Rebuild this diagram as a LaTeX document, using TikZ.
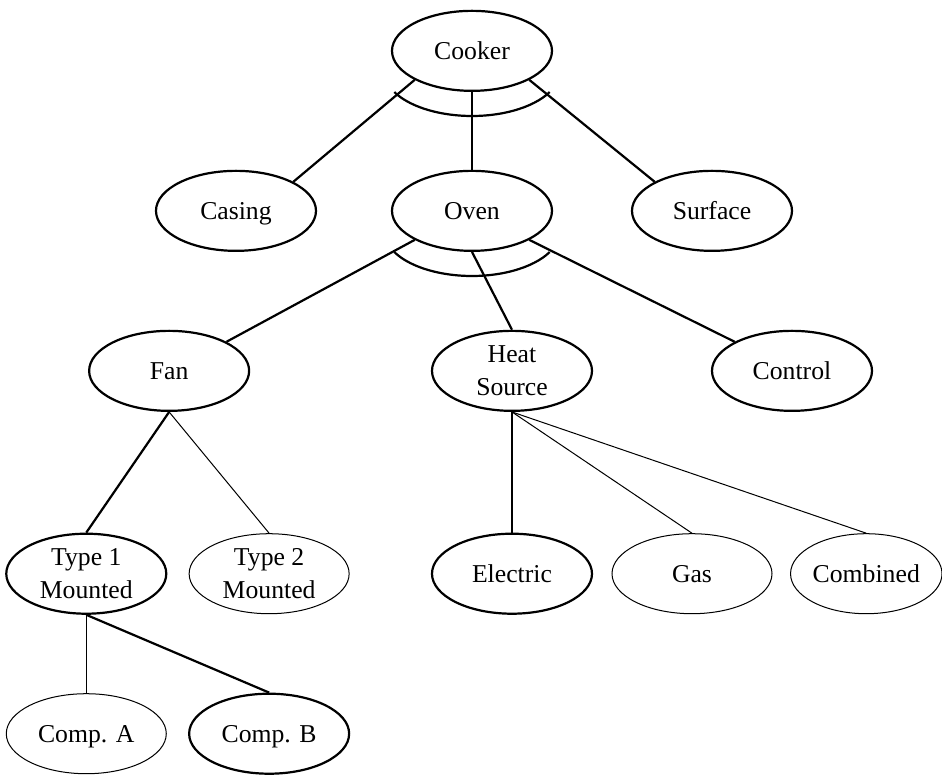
\documentclass[tikz,border=0pt]{standalone}
\usepackage{fontspec}
\setmainfont{Liberation Serif}
\usepackage{tikz}
\usetikzlibrary{shapes.geometric}
\tikzset{part/.style = {ellipse, line width=1.1pt, minimum width=2.8cm, minimum height=1.4cm, inner sep=0pt, align=center, draw=black, font=\fontsize{12.8}{16.4}\selectfont}}
\tikzset{optpart/.style = {part, line width=0.5pt}}
\tikzset{link/.style = {line width=1.1pt}}
\tikzset{optlink/.style = {line width=0.5pt}}

\begin{document}
\begin{tikzpicture}[node distance=2.8cm]
	\useasboundingbox (-8.26,0.89) rectangle (8.225,-12.69);
	\node (cooker) 	[part]										{Cooker};
	\node (oven) 	[part, below of=cooker] 					{Oven};
	\node (casing) 	[part, left of=oven, xshift=-1.33cm, text depth=0pt] {Casing};
	\node (surface) [part, right of=oven, xshift=1.4cm] 		{Surface};
	\node (heat) 	[part, below of=oven, xshift=0.7cm] 		{Heat\\Source};
	\node (fan) 	[part, left of=heat, xshift=-3.2cm] 		{Fan};
	\node (control) [part, right of=heat, xshift=2.1cm] 		{Control};
	\node (type1) 	[part, below of=fan, xshift=-1.45cm, yshift=-0.75cm] {Type 1\\Mounted};
	\node (type2) 	[optpart, right of=type1, xshift=0.4cm] 	{Type 2\\Mounted};
	\node (compa) 	[optpart, below of=type1, text depth=0pt] 	{Comp. A};
	\node (compb) 	[part, right of=compa, xshift=0.4cm, text depth=0pt] {Comp. B};
	\node (electric) [part, below of=heat, yshift=-0.75cm] 		{Electric};
	\node (gas) 	[optpart, right of=electric, xshift=0.35cm] {Gas};
	\node (combined) [optpart, right of=gas, xshift=0.25cm, minimum width=2.6cm] {Combined};
	
	\draw [link] (cooker.south west) 	-- (casing.north east);
	\draw [link] (cooker.south) 		-- (oven.north);
	\draw [link] (cooker.south east) 	-- (surface.north west);
	\draw [link] ([yshift=-0.35cm]cooker.center) ++(208:1.54cm and 0.79cm) arc [start angle=208, end angle=332, x radius=1.54cm, y radius=0.79cm];
	
	\draw [link] (oven.south west) 	-- (fan.north east);
	\draw [link] (oven.south) 		-- (heat.north);
	\draw [link] (oven.south east) 	-- (control.north west);
	\draw [link] ([yshift=-0.35cm]oven.center) ++(208:1.54cm and 0.79cm) arc [start angle=208, end angle=332, x radius=1.54cm, y radius=0.79cm];
	
	\draw [link] 	(fan.south) 	-- (type1.north);
	\draw [optlink] (fan.south) 	-- (type2.north);
	\draw [optlink] (type1.south) 	-- (compa.north);
	\draw [link] 	(type1.south) 	-- (compb.north);
	
	\draw [link] 	(heat.south) 	-- (electric.north);
	\draw [optlink] (heat.south) 	-- (gas.north);
	\draw [optlink] (heat.south) 	-- (combined.north);
\end{tikzpicture}
\end{document}
